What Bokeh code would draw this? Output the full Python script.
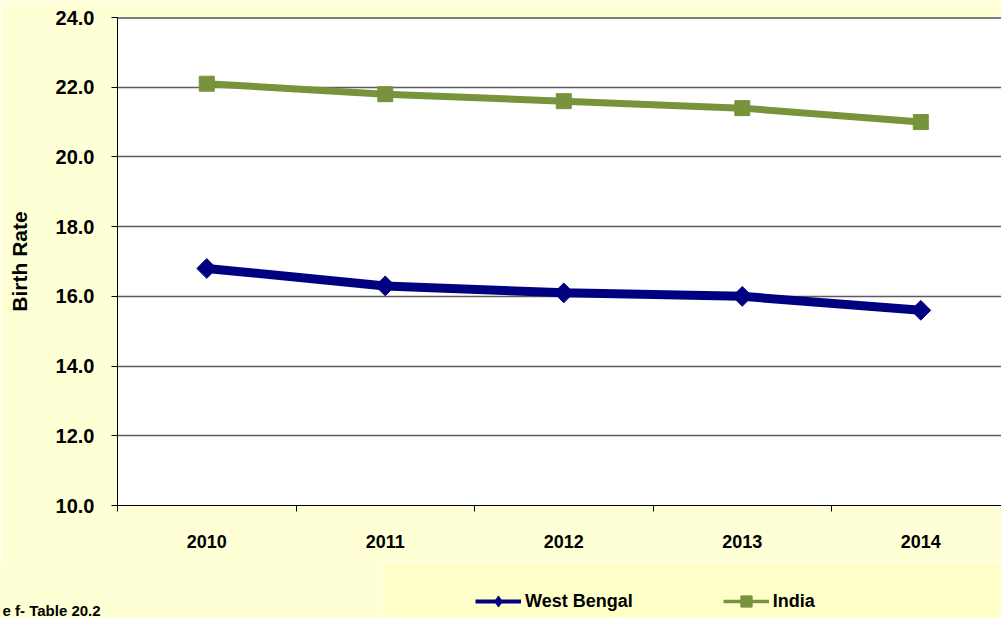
import numpy as np
from bokeh.plotting import figure
from bokeh.layouts import column
from bokeh.models import (ColumnDataSource, Range1d, FixedTicker, PrintfTickFormatter,
                          Legend, LegendItem, BoxAnnotation, Label, Span)
from bokeh.embed import file_html
from bokeh.resources import INLINE

# ---- data ----
years = ["2010", "2011", "2012", "2013", "2014"]
west_bengal = [16.8, 16.3, 16.1, 16.0, 15.6]
india = [22.1, 21.8, 21.6, 21.4, 21.0]
y_ticks = [10, 12, 14, 16, 18, 20, 22, 24]
series_names = ["West Bengal", "India"]
source_note = "e f- Table 20.2"

BG = "#FFFFD6"
LEG_BG = "#FFFFC9"
WB_COLOR = "#000080"
IN_COLOR = "#77933C"
FONT = "Liberation Sans"

xs = list(range(len(years)))
src = ColumnDataSource(dict(x=xs, wb=west_bengal, ind=india))

# ---------------- main chart ----------------
p = figure(width=1001, height=560, output_backend="svg", toolbar_location=None,
           x_range=Range1d(-0.5, 4.452), y_range=Range1d(y_ticks[0], y_ticks[-1]),
           min_border_left=117, min_border_top=17, min_border_bottom=55,
           min_border_right=0)
p.frame_align = False
p.background_fill_color = "white"
p.border_fill_color = BG
p.outline_line_color = None

xa = p.xaxis[0]
xa.ticker = FixedTicker(ticks=xs, minor_ticks=[i - 0.5 for i in range(len(years) + 1)])
xa.major_label_overrides = {i: y for i, y in enumerate(years)}
xa.major_tick_out = 0
xa.major_tick_in = 0
xa.minor_tick_out = 6
xa.minor_tick_in = 0
xa.minor_tick_line_color = "black"
xa.axis_line_color = "black"
xa.major_label_text_font = FONT
xa.major_label_text_font_style = "bold"
xa.major_label_text_font_size = "18px"
xa.major_label_text_color = "black"
xa.major_label_standoff = 23

ya = p.yaxis[0]
ya.ticker = FixedTicker(ticks=y_ticks, minor_ticks=[])
ya.formatter = PrintfTickFormatter(format="%.1f")
ya.major_tick_out = 6
ya.major_tick_in = 0
ya.major_tick_line_color = "black"
ya.axis_line_color = "black"
ya.major_label_text_font = FONT
ya.major_label_text_font_style = "bold"
ya.major_label_text_font_size = "20px"
ya.major_label_text_color = "black"
ya.major_label_standoff = 17
ya.axis_label = "Birth Rate"
ya.axis_label_text_font = FONT
ya.axis_label_text_font_style = "bold"
ya.axis_label_text_font_size = "21px"
ya.axis_label_text_color = "black"
ya.axis_label_standoff = 22

p.xgrid.grid_line_color = None
p.ygrid.ticker = FixedTicker(ticks=y_ticks)
p.ygrid.grid_line_color = "#5c5c5c"
p.ygrid.grid_line_width = 1.5

p.add_layout(Span(location=y_ticks[-1], dimension="width", line_color="black", line_width=2))

p.line("x", "ind", source=src, line_color=IN_COLOR, line_width=7)
p.scatter("x", "ind", source=src, marker="square", size=15, fill_color=IN_COLOR,
          line_color=IN_COLOR)
p.line("x", "wb", source=src, line_color=WB_COLOR, line_width=9)
p.scatter("x", "wb", source=src, marker="square", angle=np.pi / 4, size=14,
          fill_color=WB_COLOR, line_color=WB_COLOR)

# ---------------- legend strip ----------------
q = figure(width=1001, height=58, output_backend="svg", toolbar_location=None,
           x_range=Range1d(0, 1), y_range=Range1d(0, 1),
           x_axis_location=None, y_axis_location=None,
           min_border_left=0, min_border_right=0, min_border_top=0, min_border_bottom=0)
q.frame_align = False
q.background_fill_color = BG
q.border_fill_color = BG
q.outline_line_color = None
q.grid.visible = False

# legend glyph renderers (series data; they lie outside this strip's ranges)
l_wb = q.line("x", "wb", source=src, line_color=WB_COLOR, line_width=4)
m_wb = q.scatter("x", "wb", source=src, marker="diamond", fill_color=WB_COLOR,
                 line_color=WB_COLOR)
l_in = q.line("x", "ind", source=src, line_color=IN_COLOR, line_width=3.5)
m_in = q.scatter("x", "ind", source=src, marker="square", fill_color=IN_COLOR,
                 line_color=IN_COLOR)

# strip background and legend box
q.add_layout(BoxAnnotation(left=-10, right=1200, top=-10, bottom=120,
                           left_units="canvas", right_units="canvas",
                           top_units="canvas", bottom_units="canvas",
                           fill_color=BG, fill_alpha=1.0, line_color=None))
q.add_layout(BoxAnnotation(left=383, right=1200, top=1.5, bottom=120,
                           left_units="canvas", right_units="canvas",
                           top_units="canvas", bottom_units="canvas",
                           fill_color=LEG_BG, fill_alpha=1.0,
                           line_color="white", line_width=2.5))

legend = Legend(items=[LegendItem(label=series_names[0], renderers=[l_wb, m_wb]),
                       LegendItem(label=series_names[1], renderers=[l_in, m_in])],
                location=(475, 3), orientation="horizontal",
                glyph_width=46, glyph_height=28, label_standoff=4, spacing=90,
                padding=0, margin=0, background_fill_alpha=0, border_line_color=None,
                label_text_font=FONT, label_text_font_style="bold",
                label_text_font_size="18px", label_text_color="black")
q.add_layout(legend, "center")

q.add_layout(Label(x=2, y=58, x_units="canvas", y_units="canvas", text=source_note,
                   text_font=FONT, text_font_style="bold", text_font_size="15px",
                   text_color="black", text_baseline="bottom"))

layout = column(p, q, spacing=0)
open("out.html", "w").write(file_html(layout, INLINE))
